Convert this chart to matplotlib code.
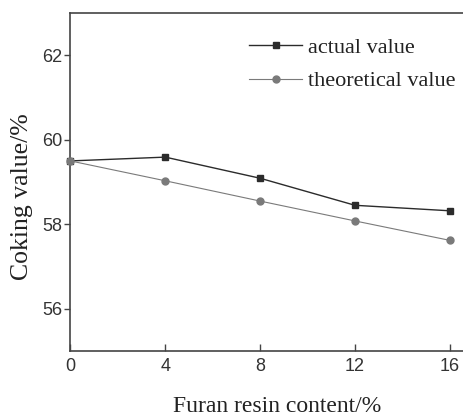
import matplotlib.pyplot as plt

furan = [0, 4, 8, 12, 16]
actual = [59.50, 59.59, 59.09, 58.45, 58.32]
theoretical = [59.50, 59.03, 58.55, 58.08, 57.62]

x_ticks = [0, 4, 8, 12, 16]
y_ticks = [56, 58, 60, 62]


def main():
    fig = plt.figure(figsize=(4.63, 4.19), dpi=100)
    ax = fig.add_axes([0.152, 0.162, 0.871, 0.807])

    ax.plot(furan, actual, '-s', color='#2b2b2b', lw=1.0, markersize=5,
            label='actual value', clip_on=False, zorder=3)
    ax.plot(furan, theoretical, '-o', color='#7a7a7a', lw=0.8, markersize=5,
            label='theoretical value', clip_on=False, zorder=3)

    ax.set_xlim(0, 17)
    ax.set_ylim(55, 63)
    ax.set_xticks(x_ticks)
    ax.set_yticks(y_ticks)

    tick_font = dict(family='Liberation Sans', size=13, color='#333333')
    ax.set_xticklabels([str(t) for t in x_ticks], **tick_font)
    ax.set_yticklabels([str(t) for t in y_ticks], **tick_font)
    ax.tick_params(axis='x', direction='in', length=5, width=1, color='#444444', pad=5)
    ax.tick_params(axis='y', direction='out', length=4, width=1, color='#444444', pad=2)

    for s in ax.spines.values():
        s.set_color('#444444')
        s.set_linewidth(1.2)

    fig.text(277 / 463, 1 - 406 / 419, 'Furan resin content/%', ha='center', va='center',
             family='Liberation Serif', size=17, color='#222222')
    fig.text(22 / 463, 1 - 197 / 419, 'Coking value/%', ha='center', va='center',
             rotation=90, family='Liberation Serif', size=18.5, color='#222222')

    ax.legend(loc='upper left', bbox_to_anchor=(249 / 463, 1 - 37 / 419),
              bbox_transform=fig.transFigure, frameon=False,
              prop=dict(family='Liberation Serif', size=16),
              handlelength=2.4, handletextpad=0.25, labelspacing=0.6,
              borderpad=0, borderaxespad=0, labelcolor='#222222')

    fig.savefig('out.png', dpi=100)


if __name__ == '__main__':
    main()
